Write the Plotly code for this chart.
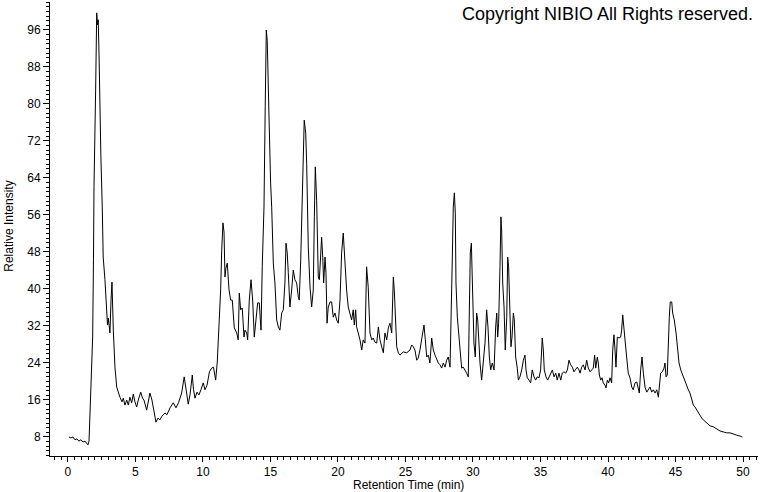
import plotly.graph_objects as go

# Retention time (min) and relative intensity
retention_time = [
    0.07, 0.22, 0.37, 0.52, 0.67, 0.81, 0.96, 1.11, 1.26, 1.41, 1.48, 1.56,
    1.68, 1.83, 1.89, 1.93, 2.05, 2.13, 2.19, 2.24, 2.30, 2.37, 2.44, 2.54, 2.61, 2.74, 2.87, 2.93,
    2.99, 3.11, 3.19, 3.26, 3.36, 3.48, 3.61, 3.73, 3.85, 4.00, 4.10, 4.22, 4.35, 4.47, 4.59, 4.72,
    4.84, 4.96, 5.09, 5.21, 5.39, 5.52, 5.63, 5.83, 5.96, 6.07, 6.22, 6.37, 6.52, 6.67, 6.81, 6.96,
    7.19, 7.33, 7.56, 7.80, 8.00, 8.19, 8.42, 8.61, 8.74, 8.91, 9.04, 9.21, 9.30, 9.41, 9.56, 9.70,
    9.85, 10.02, 10.15, 10.30, 10.48, 10.64, 10.78, 10.94, 11.06, 11.15, 11.22, 11.31, 11.39, 11.48,
    11.56, 11.63, 11.70, 11.80, 11.93, 12.05, 12.17, 12.32, 12.50, 12.61, 12.69, 12.79, 12.91, 13.04,
    13.11, 13.24, 13.31, 13.43, 13.56, 13.68, 13.80, 13.93, 14.05, 14.17, 14.30, 14.39, 14.52, 14.61,
    14.69, 14.76, 14.84, 14.91, 15.01, 15.09, 15.21, 15.33, 15.46, 15.58, 15.70, 15.83, 15.95, 16.07,
    16.15, 16.24, 16.32, 16.44, 16.57, 16.69, 16.81, 16.94, 17.06, 17.13, 17.24, 17.31, 17.43, 17.50,
    17.61, 17.68, 17.80, 17.93, 18.05, 18.17, 18.25, 18.32, 18.42, 18.47, 18.54, 18.62, 18.72, 18.79,
    18.87, 18.94, 19.04, 19.11, 19.19, 19.28, 19.41, 19.53, 19.65, 19.78, 19.90, 20.02, 20.15, 20.27,
    20.39, 20.52, 20.64, 20.76, 20.89, 21.01, 21.13, 21.21, 21.31, 21.38, 21.50, 21.63, 21.76, 21.87,
    22.00, 22.12, 22.24, 22.37, 22.50, 22.61, 22.74, 22.87, 22.99, 23.11, 23.24, 23.36, 23.48, 23.61,
    23.73, 23.85, 23.98, 24.10, 24.17, 24.24, 24.35, 24.47,
    24.59, 24.84, 25.09, 25.33, 25.46, 25.58, 25.70, 25.83, 25.95, 26.07, 26.27, 26.37, 26.47, 26.57,
    26.69, 26.81, 26.94, 27.06, 27.19, 27.31, 27.43, 27.56, 27.68, 27.80, 27.93, 28.05, 28.17, 28.30,
    28.37, 28.47, 28.54, 28.62, 28.69, 28.74, 28.84, 28.99, 29.16, 29.28, 29.41, 29.53, 29.65, 29.73,
    29.80, 29.88, 29.98, 30.07, 30.17, 30.27, 30.35, 30.44, 30.52, 30.64, 30.76, 30.89, 31.01, 31.11,
    31.21, 31.31, 31.43, 31.56, 31.68, 31.76, 31.83, 31.90, 32.00, 32.07, 32.13, 32.20, 32.30, 32.39,
    32.50, 32.57, 32.64, 32.74, 32.81, 32.89, 32.99, 33.06, 33.16, 33.28, 33.36, 33.48, 33.61, 33.73,
    33.85, 33.93, 34.02, 34.15, 34.27, 34.39, 34.52, 34.64, 34.76, 34.89, 35.01, 35.13, 35.21, 35.28,
    35.41, 35.53, 35.65, 35.78, 35.88, 36.00, 36.13, 36.24, 36.37, 36.50, 36.61, 36.74, 36.87, 36.99,
    37.11, 37.24, 37.36, 37.48, 37.61, 37.73, 37.85,
    37.93, 38.05, 38.17, 38.30, 38.42, 38.54, 38.67, 38.79, 38.91, 39.01, 39.09, 39.21, 39.28, 39.36,
    39.46, 39.56, 39.65, 39.78, 39.85, 39.95, 40.05, 40.15, 40.27, 40.35, 40.44, 40.52, 40.59, 40.69,
    40.81, 40.94, 41.01, 41.09, 41.16, 41.26, 41.38, 41.50, 41.63, 41.76, 41.87, 42.00, 42.13, 42.24,
    42.32, 42.42, 42.52, 42.62, 42.74, 42.87, 42.99, 43.11, 43.24, 43.36, 43.48, 43.61, 43.73, 43.80,
    43.90, 44.02, 44.15, 44.22, 44.30, 44.39, 44.47, 44.54, 44.61, 44.72, 44.79, 44.91, 45.04, 45.13,
    45.26, 45.39, 45.48, 45.58, 45.70, 45.83, 45.95, 46.07, 46.20, 46.32, 46.44, 46.57, 46.69, 46.81,
    46.94, 47.06, 47.31, 47.56, 47.80, 48.05, 48.30, 48.54, 48.79, 49.04, 49.28, 49.53, 49.78, 49.95,
]

relative_intensity = [
    8.0, 7.8, 8.0, 7.4, 7.6, 7.1, 7.4, 6.9, 7.1, 6.7, 6.3, 7.1,
    17.5, 29.6, 46.3, 62.1, 83.0, 99.7, 97.1, 98.2, 91.0, 78.1, 68.5, 57.7, 46.9, 42.0, 34.8, 32.2,
    33.7, 30.5, 37.6, 41.5, 31.1, 23.1, 18.8, 17.5, 16.6, 15.6, 16.4, 14.9, 16.0, 14.9, 16.6, 15.4,
    17.3, 15.6, 14.5, 16.0, 17.7, 16.4, 16.0, 13.8, 16.0, 17.5, 16.0, 13.8, 11.2, 12.1, 11.7, 12.5,
    13.2, 12.8, 14.3, 15.4, 14.3, 15.4, 17.5, 21.0, 18.2, 15.1, 17.1, 21.4, 18.2, 16.4, 17.7, 17.1,
    18.2, 19.7, 18.2, 19.2, 22.1, 22.9, 23.1, 20.3, 24.2, 29.0, 33.9, 39.8, 48.4, 54.3,
    52.3, 42.6, 44.5, 45.6, 39.8, 37.6, 37.6, 31.6, 30.5, 29.0, 39.1, 35.5, 35.9, 29.6,
    31.1, 30.5, 29.0, 37.6, 42.0, 37.6, 29.6, 33.3, 37.0, 37.0, 31.1, 44.8, 57.7, 79.4,
    96.0, 93.8, 85.8, 75.0, 62.9, 57.7, 45.6, 41.3, 33.3, 31.8, 31.1, 34.8, 35.5, 41.3,
    49.9, 47.8, 43.5, 36.1, 39.8, 44.1, 42.0, 41.3, 38.3, 37.6, 46.3, 55.6, 70.7, 76.5,
    73.7, 67.2, 49.1, 40.4, 36.1, 39.8, 55.6, 66.4, 59.2, 52.8, 42.6, 42.0, 46.9, 51.2,
    46.9, 41.3, 46.9, 43.5, 32.6, 36.1, 37.2, 37.2, 33.9, 34.8, 33.3, 32.6, 37.6, 47.8,
    52.1, 44.8, 39.8, 36.1, 34.8, 33.3, 35.5, 32.2, 35.5, 31.8, 30.5, 29.0, 26.8, 29.0,
    28.3, 44.8, 40.4, 30.5, 29.0, 29.4, 28.5, 28.3, 31.8, 29.0, 27.5, 26.2, 30.5, 29.0,
    31.6, 32.6, 30.5, 42.6, 39.8, 33.9, 27.5, 26.2,
    25.7, 26.4, 26.2, 26.8, 27.9, 27.5, 26.8, 24.6, 25.1, 26.8, 30.7, 32.2, 29.0, 25.3,
    25.7, 24.0, 29.4, 26.8, 25.7, 24.6, 24.0, 23.6, 22.9, 24.0, 23.1, 24.6, 25.3, 23.1,
    31.1, 46.9, 57.7, 60.8, 56.4, 41.3, 33.9, 28.3, 22.9, 23.1, 22.5, 21.8, 21.0, 38.3,
    47.8, 49.9, 37.6, 28.3, 25.3, 34.8, 33.3, 26.8, 24.0, 20.3, 24.0, 28.3, 35.5, 31.8,
    25.3, 22.5, 24.0, 22.5, 31.8, 34.8, 29.6, 32.6, 44.8, 55.6, 52.1, 41.3, 36.1, 26.8,
    33.9, 46.9, 44.8, 31.8, 27.5, 29.6, 34.8, 33.3, 25.3, 22.9, 20.3, 21.0, 22.5, 24.6,
    25.7, 22.5, 20.8, 20.3, 19.7, 22.5, 21.0, 20.3, 21.0, 20.8, 22.5, 29.4, 26.8, 22.5,
    21.0, 20.3, 21.0, 22.1, 22.5, 21.0, 21.8, 20.3, 21.8, 20.3, 21.8, 22.1, 21.8, 22.5,
    24.6, 23.6, 23.1, 22.1, 22.5, 23.1, 22.5,
    21.8, 23.1, 23.6, 22.5, 24.6, 22.9, 22.1, 22.5, 22.9, 25.7, 22.9, 25.3, 24.0, 21.4,
    20.3, 20.8, 19.7, 19.2, 18.6, 20.3, 19.7, 20.8, 19.7, 26.8, 30.1, 26.8, 23.1, 29.6,
    29.4, 29.6, 31.1, 34.4, 31.6, 29.0, 25.3, 21.8, 20.8, 18.8, 18.2, 19.7, 19.9, 18.2,
    17.5, 22.5, 25.3, 21.8, 18.8, 17.7, 18.2, 18.8, 17.7, 18.2, 17.5, 18.2, 16.6, 19.7,
    21.8, 22.1, 22.9, 24.0, 21.0, 21.4, 30.5, 33.9, 37.2, 37.2, 34.8, 33.3, 30.5, 27.5,
    24.0, 22.5, 21.8, 20.8, 19.9, 18.8, 18.2, 17.5, 16.0, 14.9, 14.5, 13.8, 13.2, 12.8,
    12.1, 11.7, 11.0, 10.4, 10.2, 9.7, 9.3, 9.1, 8.9, 8.9, 8.6, 8.4, 8.2, 8.0,
]

x_ticks = [0, 5, 10, 15, 20, 25, 30, 35, 40, 45, 50]
y_ticks = [8, 16, 24, 32, 40, 48, 56, 64, 72, 80, 88, 96]

FONT = "Liberation Sans, Arial, sans-serif"

fig = go.Figure()
fig.add_trace(go.Scatter(
    x=retention_time, y=relative_intensity, mode="lines",
    line=dict(color="black", width=1), showlegend=False, hoverinfo="skip",
))

fig.update_layout(
    width=760, height=492,
    margin=dict(l=50, r=2, t=2, b=36, autoexpand=False),
    paper_bgcolor="white", plot_bgcolor="white",
    font=dict(family=FONT, size=12, color="black"),
    xaxis=dict(
        range=[-1.33, 51.11], tickvals=x_ticks, ticktext=[str(v) for v in x_ticks],
        showgrid=False, zeroline=False, showline=True, linecolor="black", linewidth=1,
        ticks="outside", ticklen=5, tickcolor="black", tickwidth=1,
        minor=dict(dtick=0.5, tick0=0, ticks="outside", ticklen=3, tickcolor="black", showgrid=False),
        automargin=False, tickfont=dict(size=12),
    ),
    yaxis=dict(
        range=[3.89, 102.05], tickvals=y_ticks, ticktext=[str(v) for v in y_ticks],
        showgrid=False, zeroline=False, showline=True, linecolor="black", linewidth=1,
        ticks="outside", ticklen=6, tickcolor="black", tickwidth=1,
        minor=dict(dtick=1, tick0=0, ticks="outside", ticklen=3, tickcolor="black", showgrid=False),
        automargin=False, tickfont=dict(size=12),
    ),
    annotations=[
        dict(text="Copyright NIBIO All Rights reserved.", xref="paper", yref="paper",
             x=0.9958, y=0.9736, xanchor="right", yanchor="middle", showarrow=False,
             font=dict(family=FONT, size=18, color="black")),
        dict(text="Retention Time (min)", xref="paper", yref="paper",
             x=0.507, y=-0.0639, xanchor="center", yanchor="middle", showarrow=False,
             font=dict(family=FONT, size=12, color="black")),
        dict(text="Relative Intensity", xref="paper", yref="paper", textangle=-90,
             x=-0.0579, y=0.505, xanchor="center", yanchor="middle", showarrow=False,
             font=dict(family=FONT, size=12, color="black")),
    ],
)

fig.write_html(
    "out.html",
    config={"displayModeBar": False, "staticPlot": True},
    post_script="document.body.style.margin='0';document.body.style.overflow='hidden';",
)
